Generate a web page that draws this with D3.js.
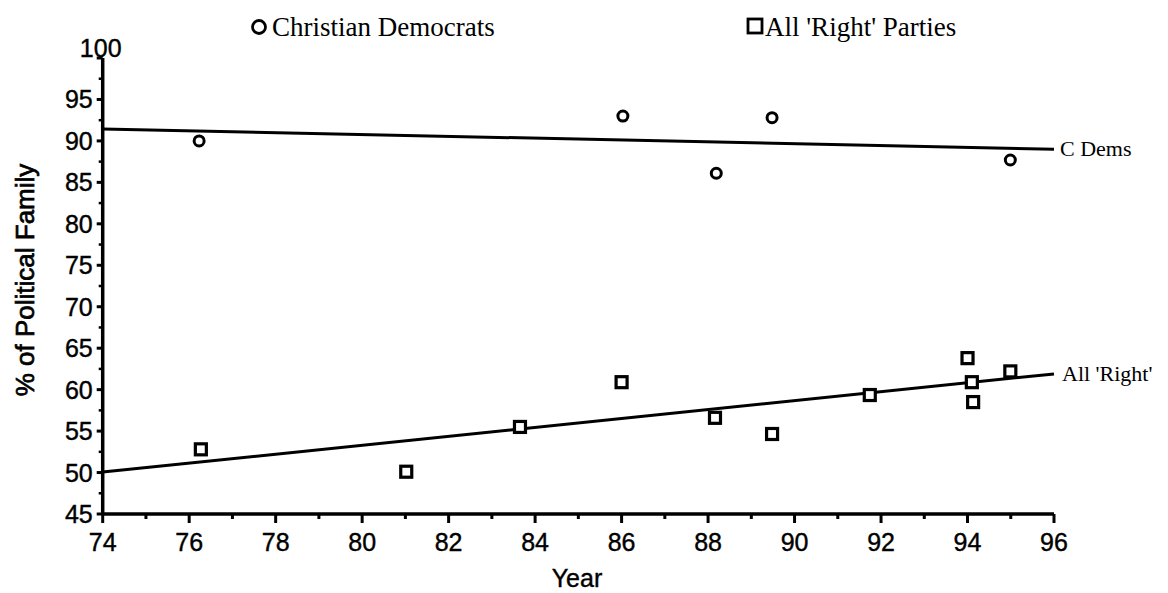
<!DOCTYPE html>
<html>
<head>
<meta charset="utf-8">
<script src="https://cdn.jsdelivr.net/npm/d3@7"></script>
<style>
  body { margin: 0; background: #fff; }
  svg { display: block; }
  .tick-label { font-family: "Liberation Sans", Arial, sans-serif; font-size: 25px; fill: #000; stroke: #000; stroke-width: 0.4px; }
  .serif { font-family: "Liberation Serif", "Times New Roman", serif; fill: #000; }
</style>
</head>
<body>
<svg id="chart"></svg>
<script>
/*=================
=== Data
=================*/
var cdYears  = [76.23, 86.03, 88.19, 89.48, 94.99];
var cdValues = [90.0, 93.0, 86.1, 92.8, 87.7];

var rightYears  = [76.27, 81.02, 83.65, 86.0, 88.16, 89.48, 91.74, 94.0, 94.1, 94.13, 94.99];
var rightValues = [52.8, 50.1, 55.5, 60.9, 56.6, 54.65, 59.35, 63.8, 60.9, 58.5, 62.2];

// fitted trend lines, endpoints at 74 and 96
var fitYears   = [74, 96];
var cdFit      = [91.44, 89.0];
var rightFit   = [50.06, 61.9];

var xTicks = [74, 76, 78, 80, 82, 84, 86, 88, 90, 92, 94, 96];
var yTicks = [45, 50, 55, 60, 65, 70, 75, 80, 85, 90, 95, 100];

/*=================
=== Setup
=================*/
var width = 1168, height = 593;
var svg = d3.select('#chart').attr('width', width).attr('height', height);

var x = d3.scaleLinear().domain([74, 96]).range([102.7, 1054]);
var y = d3.scaleLinear().domain([45, 100]).range([514, 58]);

var ink = '#000';

// y axis
var yAxis = svg.append('g').attr('class', 'y-axis');
yAxis.append('line')
	.attr('x1', x(74)).attr('x2', x(74))
	.attr('y1', y(100)).attr('y2', y(45))
	.attr('stroke', ink).attr('stroke-width', 3.5);

yAxis.selectAll('.major')
	.data(yTicks)
	.enter()
	.append('line')
	.attr('x1', x(74) - 6).attr('x2', x(74))
	.attr('y1', d => y(d)).attr('y2', d => y(d))
	.attr('stroke', ink).attr('stroke-width', 3);

yAxis.selectAll('.minor')
	.data(yTicks.slice(0, -1).map(d => d + 2.5))
	.enter()
	.append('line')
	.attr('x1', x(74) - 4).attr('x2', x(74))
	.attr('y1', d => y(d)).attr('y2', d => y(d))
	.attr('stroke', ink).attr('stroke-width', 2.5);

yAxis.selectAll('text')
	.data(yTicks)
	.enter()
	.append('text')
	.attr('class', 'tick-label')
	.attr('x', d => d === 100 ? x(74) - 2 : x(74) - 10)
	.attr('y', d => d === 100 ? y(d) - 1 : y(d) + 9)
	.attr('text-anchor', d => d === 100 ? 'middle' : 'end')
	.text(d => d);

// x axis
var xAxis = svg.append('g').attr('class', 'x-axis');
xAxis.append('line')
	.attr('x1', x(74)).attr('x2', x(96))
	.attr('y1', y(45)).attr('y2', y(45))
	.attr('stroke', ink).attr('stroke-width', 3.5);

xAxis.selectAll('.major')
	.data(xTicks)
	.enter()
	.append('line')
	.attr('x1', d => x(d)).attr('x2', d => x(d))
	.attr('y1', y(45)).attr('y2', y(45) + 9)
	.attr('stroke', ink).attr('stroke-width', 3);

xAxis.selectAll('.minor')
	.data(xTicks.slice(0, -1).map(d => d + 1))
	.enter()
	.append('line')
	.attr('x1', d => x(d)).attr('x2', d => x(d))
	.attr('y1', y(45)).attr('y2', y(45) + 5)
	.attr('stroke', ink).attr('stroke-width', 3);

xAxis.selectAll('text')
	.data(xTicks)
	.enter()
	.append('text')
	.attr('class', 'tick-label')
	.attr('x', d => x(d))
	.attr('y', 551)
	.attr('text-anchor', 'middle')
	.text(d => d);

// axis titles
svg.append('text')
	.attr('class', 'tick-label')
	.attr('x', 577).attr('y', 587)
	.attr('text-anchor', 'middle')
	.text('Year');

svg.append('text')
	.attr('class', 'tick-label')
	.attr('transform', 'translate(34,280) rotate(-90)')
	.attr('text-anchor', 'middle')
	.style('font-size', '26px')
	.style('stroke-width', '0.7px')
	.text('% of Political Family');

/*=================
=== Trend lines
=================*/
var fitLine = d3.line()
	.x(d => x(d[0]))
	.y(d => y(d[1]));

[cdFit, rightFit].forEach(vals => {
	svg.append('path')
		.datum(fitYears.map((yr, i) => [yr, vals[i]]))
		.attr('d', fitLine)
		.attr('fill', 'none')
		.attr('stroke', ink)
		.attr('stroke-width', 3);
});

svg.append('text').attr('class', 'serif')
	.attr('x', x(96) + 6).attr('y', y(cdFit[1]) + 7)
	.style('font-size', '22px')
	.text('C Dems');

svg.append('text').attr('class', 'serif')
	.attr('x', x(96) + 8).attr('y', y(rightFit[1]) + 7)
	.style('font-size', '22px')
	.text("All 'Right'");

/*=================
=== Points
=================*/
svg.append('g')
	.selectAll('circle')
	.data(cdYears.map((yr, i) => [yr, cdValues[i]]))
	.enter()
	.append('circle')
	.attr('cx', d => x(d[0]))
	.attr('cy', d => y(d[1]))
	.attr('r', 5)
	.attr('fill', '#fff')
	.attr('stroke', ink)
	.attr('stroke-width', 3);

var sq = 11;
svg.append('g')
	.selectAll('rect')
	.data(rightYears.map((yr, i) => [yr, rightValues[i]]))
	.enter()
	.append('rect')
	.attr('x', d => x(d[0]) - sq / 2)
	.attr('y', d => y(d[1]) - sq / 2)
	.attr('width', sq)
	.attr('height', sq)
	.attr('fill', '#fff')
	.attr('stroke', ink)
	.attr('stroke-width', 3.2);

/*=================
=== Legend
=================*/
var legend = svg.append('g').attr('class', 'legend');
legend.append('circle')
	.attr('cx', 259).attr('cy', 27).attr('r', 6.5)
	.attr('fill', 'none').attr('stroke', ink).attr('stroke-width', 2.8);
legend.append('text').attr('class', 'serif')
	.attr('x', 272).attr('y', 36)
	.style('font-size', '27px')
	.text('Christian Democrats');

legend.append('rect')
	.attr('x', 748).attr('y', 19).attr('width', 14).attr('height', 14)
	.attr('fill', 'none').attr('stroke', ink).attr('stroke-width', 2.8);
legend.append('text').attr('class', 'serif')
	.attr('x', 765).attr('y', 36)
	.style('font-size', '27px')
	.text("All 'Right' Parties");
</script>
</body>
</html>
